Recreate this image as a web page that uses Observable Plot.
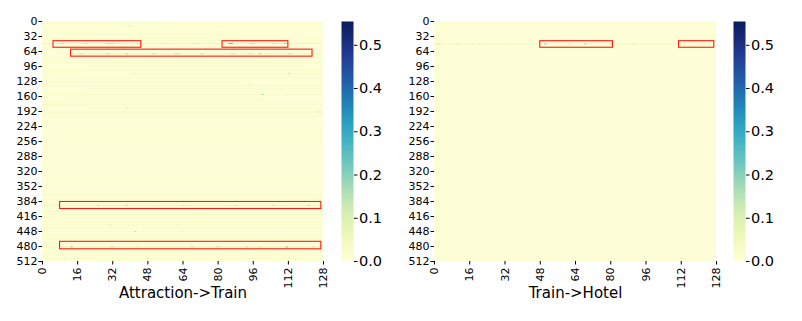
<!DOCTYPE html>
<html><head><meta charset="utf-8">
<script src="https://cdn.jsdelivr.net/npm/d3@7"></script>
<script src="https://cdn.jsdelivr.net/npm/@observablehq/plot@0.6"></script>
<style>
body{margin:0;background:#fff;}
#wrap{position:relative;width:802px;height:321px;overflow:hidden;}
#wrap > svg{position:absolute;top:0;}
</style></head><body><div id="wrap"></div>
<script>
const vmax = 0.555;
const nRows = 512, nCols = 128;
const xTicks = [0,16,32,48,64,80,96,112,128];
const yTicks = [0,32,64,96,128,160,192,224,256,288,320,352,384,416,448,480,512];
const cbTicks = [0,0.1,0.2,0.3,0.4,0.5];
const leftTitle = "Attraction->Train";
const rightTitle = "Train->Hotel";
const baseLevel = 0.006;

// [row, colStart, colEnd, value]
const leftStripes = [
  [4,0,60,0.03],[10,30,128,0.025],[20,0,128,0.02],[28,10,90,0.03],[36,0,128,0.025],
  [40,20,110,0.03],[47,0,128,0.06],[56,0,128,0.03],[60,0,60,0.03],[69,8,128,0.055],
  [78,0,128,0.025],[88,0,128,0.03],[96,20,120,0.025],[104,0,128,0.03],[111,40,128,0.035],
  [120,0,128,0.03],[128,0,90,0.025],[136,0,128,0.035],[144,20,128,0.03],[156,0,128,0.035],
  [164,10,100,0.025],[170,0,128,0.03],[178,0,128,0.035],[186,20,128,0.025],[193,0,128,0.035],
  [202,0,128,0.025],[214,0,100,0.02],[232,10,128,0.02],[250,0,128,0.02],[270,20,110,0.02],
  [300,0,128,0.02],[330,0,128,0.02],[350,30,128,0.02],[370,0,128,0.025],[380,0,128,0.03],
  [392,0,128,0.06],[405,0,128,0.03],[412,0,128,0.035],[420,0,128,0.03],[428,10,128,0.03],
  [434,0,128,0.035],[442,0,128,0.03],[448,0,128,0.03],[456,0,128,0.03],[464,0,128,0.03],
  [474,0,128,0.03],[481,0,128,0.06],[490,0,128,0.03],[498,0,128,0.03],[506,0,128,0.035]
];
const leftSpots = [
  [47,8,10,0.14],[47,19,21,0.12],[47,29,33,0.14],[47,38,39,0.1],[47,43,45,0.14],[47,56,58,0.09],
  [47,70,72,0.09],[47,85,87,0.26],[47,95,97,0.14],[47,105,107,0.12],[47,110,112,0.17],
  [69,17,19,0.14],[69,29,31,0.14],[69,38,39,0.2],[69,50,52,0.14],[69,60,63,0.14],[69,72,74,0.14],
  [69,86,88,0.14],[69,94,96,0.14],[69,99,100,0.2],[69,112,114,0.14],
  [10,39,40,0.1],[111,112,113,0.14],[136,94,95,0.1],[156,100,101,0.19],[193,126,127,0.14],
  [184,38,39,0.1],[146,108,109,0.08],
  [392,7,9,0.09],[392,25,26,0.15],[392,38,39,0.17],[392,52,53,0.1],[392,64,65,0.14],
  [392,88,89,0.14],[392,105,106,0.15],[392,121,122,0.17],
  [481,13,14,0.22],[481,31,33,0.14],[481,43,44,0.1],[481,68,69,0.17],[481,79,81,0.14],
  [481,93,94,0.17],[481,99,100,0.14],[481,111,112,0.24],[481,123,124,0.15],
  [448,42,43,0.15],[434,31,32,0.1],[434,61,62,0.08],[506,10,11,0.1],[420,70,71,0.08]
];
// [colStart, colEnd, rowStart, rowEnd]
const leftBoxes = [[5,45,42,56],[82,112,42,56],[13,123,60,75],[8,127,385,400],[8,127,470,486]];

const rightStripes = [[48,0,128,0.05],[70,5,40,0.015],[74,60,90,0.01]];
const rightSpots = [
  [48,1,3,0.1],[48,10,11,0.1],[48,17,18,0.09],[48,22,23,0.09],[48,34,35,0.09],
  [48,50,51,0.22],[48,61,62,0.1],[48,68,69,0.19],[48,80,81,0.14],[48,90,91,0.1],
  [48,113,114,0.1],[48,122,123,0.1]
];
const rightBoxes = [[48,81,42,56],[111,127,42,56]];

const wrap = document.getElementById("wrap");
const font = "DejaVu Sans";
const colorOpt = {type:"sequential", scheme:"YlGnBu", domain:[0, vmax]};

function heat(stripes, spots, boxes, title, left, marginLeft, marginRight) {
  const base = [{r0:0, r1:nRows, c0:0, c1:nCols, v:baseLevel}];
  const cells = [...stripes, ...spots].map(([r,c0,c1,v]) => ({r0:r, r1:r+2, c0, c1, v}));
  const rects = boxes.map(([c0,c1,r0,r1]) => ({c0,c1,r0,r1}));
  const svg = Plot.plot({
    width: 330, height: 321,
    marginLeft, marginRight, marginTop: 21, marginBottom: 60,
    style: {fontFamily: font, fontSize: "11px", background: "transparent"},
    x: {domain:[0,nCols], ticks: xTicks, tickRotate: -90, tickSize: 3.5, tickPadding: 2.5, label: null, tickFormat: d => String(d)},
    y: {domain:[0,nRows], reverse: true, ticks: yTicks, tickSize: 3.5, tickPadding: 1.5, label: null, tickFormat: d => String(d)},
    color: colorOpt,
    marks: [
      Plot.rect(base, {x1:"c0", x2:"c1", y1:"r0", y2:"r1", fill:"v"}),
      Plot.rect(cells, {x1:"c0", x2:"c1", y1:"r0", y2:"r1", fill:"v"}),
      Plot.rect(rects, {x1:"c0", x2:"c1", y1:"r0", y2:"r1", fill:"none", stroke:"#ff1a1a", strokeWidth:1.1}),
      Plot.text([title], {frameAnchor:"bottom", dy: 36, fontSize: 15, fill:"#000"})
    ]
  });
  svg.style.left = left + "px";
  wrap.appendChild(svg);
}

function colorbar(left) {
  const svg = Plot.plot({
    width: 80, height: 321,
    marginLeft: 11, marginRight: 57, marginTop: 21, marginBottom: 60,
    style: {fontFamily: font, fontSize: "14.5px", background: "transparent"},
    x: {domain:[0,1], axis: null},
    y: {domain:[0,vmax], axis: null},
    color: colorOpt,
    marks: [
      Plot.raster({x1:0, x2:1, y1:0, y2:vmax, width:1, height:240, fill:(x,y)=>y, imageRendering:"auto"}),
      Plot.axisY({anchor:"right", ticks: cbTicks, tickFormat: d3.format(".1f"), tickSize: 3.5, tickPadding: 2, label: null})
    ]
  });
  svg.style.left = left + "px";
  wrap.appendChild(svg);
}

heat(leftStripes, leftSpots, leftBoxes, leftTitle, 0, 42, 7);
colorbar(330);
heat(rightStripes, rightSpots, rightBoxes, rightTitle, 400, 34, 14);
colorbar(722);
</script>
</body></html>
